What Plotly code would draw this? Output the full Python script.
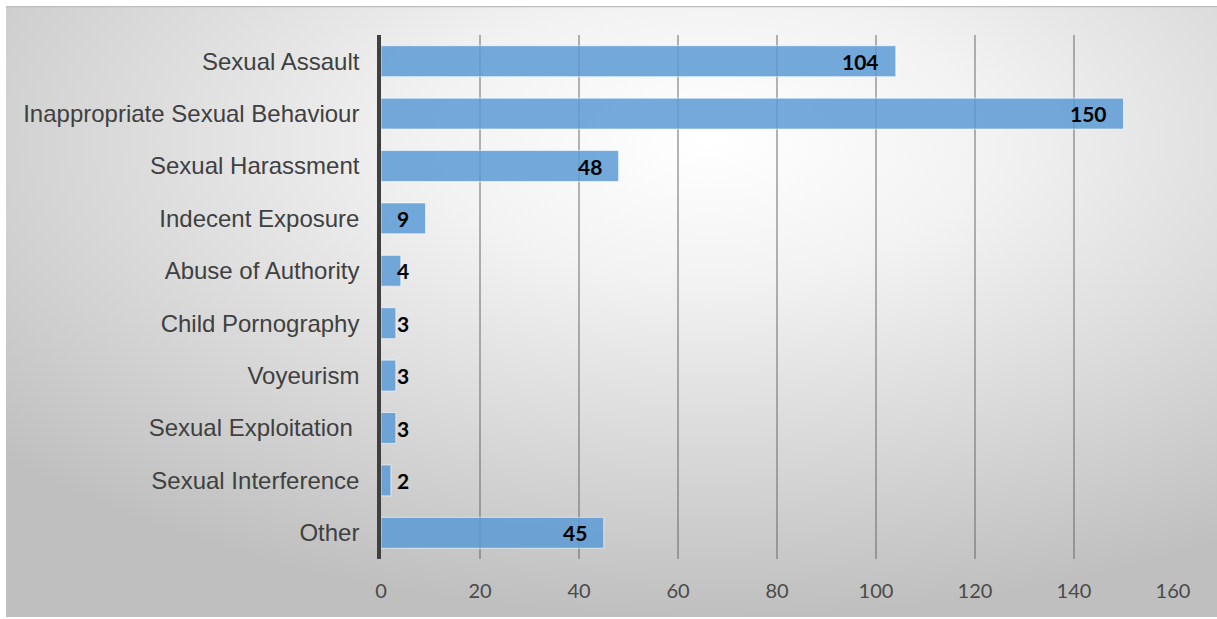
import plotly.graph_objects as go
import base64

categories = ["Sexual Assault", "Inappropriate Sexual Behaviour", "Sexual Harassment",
              "Indecent Exposure", "Abuse of Authority", "Child Pornography", "Voyeurism",
              "Sexual Exploitation ", "Sexual Interference", "Other"]
values = [104, 150, 48, 9, 4, 3, 3, 3, 2, 45]
x_ticks = [0, 20, 40, 60, 80, 100, 120, 140, 160]

W, H = 1217, 619
L, R, T, B = 381, 44, 35, 60
pw, ph = W - L - R, H - T - B

# background gradient rect in pixels (6..1217, 6..617)
bx0, by0, bx1, by1 = 6, 6, 1217, 617
bw, bh = bx1 - bx0, by1 - by0
svg = f'''<svg xmlns="http://www.w3.org/2000/svg" width="{bw}" height="{bh}" viewBox="0 0 {bw} {bh}" preserveAspectRatio="none">
<defs><radialGradient id="g" cx="0.58" cy="0.22" r="0.78">
<stop offset="0" stop-color="#ffffff"/><stop offset="0.3" stop-color="#f2f2f2"/><stop offset="1" stop-color="#bfbfbf"/></radialGradient></defs>
<rect x="0" y="0" width="{bw}" height="{bh}" fill="url(#g)"/>
<line x1="0" y1="0.5" x2="{bw}" y2="0.5" stroke="#bdbdbd" stroke-width="1.5"/>
</svg>'''
src = "data:image/svg+xml;base64," + base64.b64encode(svg.encode()).decode()

fig = go.Figure()
fig.add_trace(go.Bar(
    y=categories, x=values, orientation="h",
    marker=dict(color="rgba(91,155,213,0.85)", line=dict(color="rgba(255,255,255,0.6)", width=1)),
    hoverinfo="skip",
))

annotations = []
for c, v in zip(categories, values):
    if v >= 9:
        annotations.append(dict(x=v, y=c, xref="x", yref="y", text=f"<b>{v}</b>", showarrow=False,
                                xanchor="right", xshift=-15, font=dict(family="Lato", size=21, color="#000000")))
    else:
        annotations.append(dict(x=0, y=c, xref="x", yref="y", text=f"<b>{v}</b>", showarrow=False,
                                xanchor="left", xshift=14, font=dict(family="Lato", size=21, color="#000000")))

fig.update_layout(
    width=W, height=H,
    margin=dict(l=L, r=R, t=T, b=B),
    paper_bgcolor="#ffffff",
    plot_bgcolor="rgba(0,0,0,0)",
    bargap=0.41,
    showlegend=False,
    annotations=annotations,
    images=[dict(source=src, xref="paper", yref="paper",
                 x=(bx0 - L) / pw, y=(H - B - by0) / ph,
                 sizex=bw / pw, sizey=bh / ph, sizing="stretch",
                 xanchor="left", yanchor="top", layer="below")],
    xaxis=dict(range=[0, 160], tickvals=x_ticks, ticktext=[str(t) for t in x_ticks],
               showgrid=True, gridcolor="rgba(90,90,90,0.45)", gridwidth=1.5,
               zeroline=False, showline=False, ticks="", ticklabelstandoff=18,
               tickfont=dict(family="Lato", size=20, color="#4a4a4a")),
    yaxis=dict(categoryorder="array", categoryarray=categories, autorange="reversed",
               showgrid=False, zeroline=False, showline=True, linecolor="#404040", linewidth=3.5,
               ticks="", ticklabelstandoff=13,
               tickfont=dict(family="Liberation Sans", size=24, color="#404040")),
)

fig.write_html("out.html")
